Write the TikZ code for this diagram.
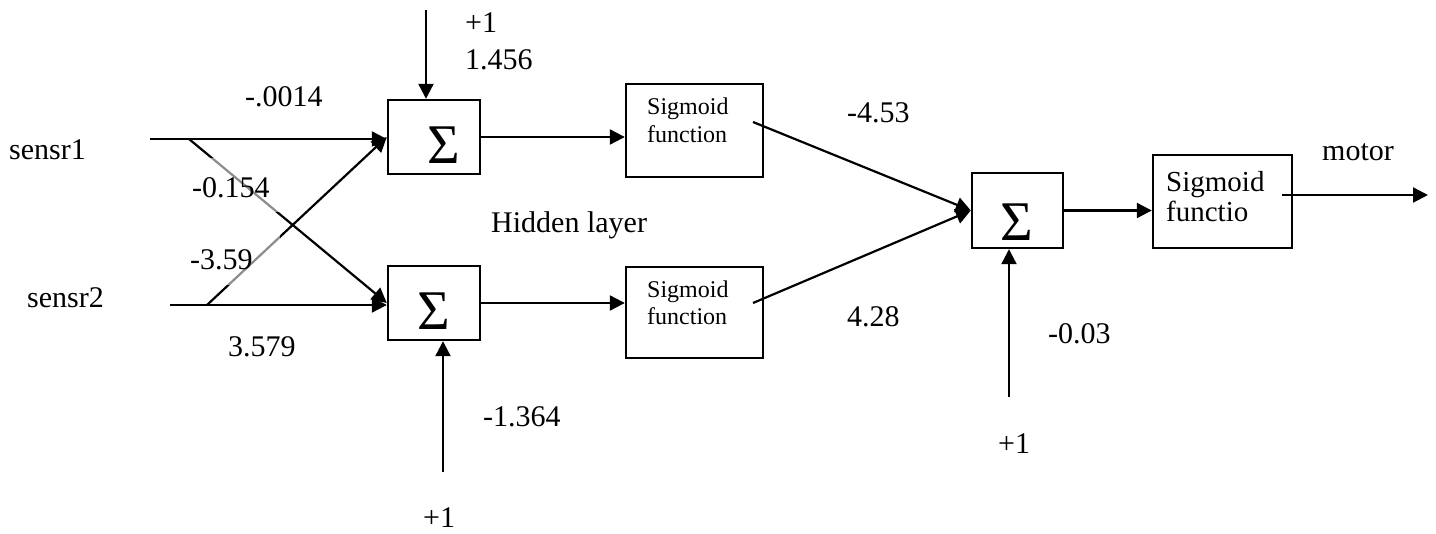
\documentclass[tikz,border=0pt]{standalone}
\usepackage{fontspec}
\setmainfont{Liberation Serif}
\usetikzlibrary{arrows.meta}
\begin{document}
\begin{tikzpicture}[x=1pt,y=-1pt,
  wire/.style={line width=2.2pt},
  arr/.style={wire,-{Triangle[length=15pt,width=15pt]}},
  boxs/.style={draw,line width=2.4pt,inner sep=0pt},
  lbl/.style={anchor=base west,inner sep=0pt,font=\fontsize{30}{34}\selectfont},
  sml/.style={anchor=base west,inner sep=0pt,font=\fontsize{24}{28}\selectfont},
  sig/.style={inner sep=0pt,font=\fontsize{56}{60}\selectfont}]
\useasboundingbox (0,0) rectangle (1436,534);
% boxes
\node[boxs,minimum width=92pt,minimum height=74pt] (s1) at (434,137) {};
\node[boxs,minimum width=92pt,minimum height=74pt] (s2) at (434,303) {};
\node[boxs,minimum width=137pt,minimum height=93pt] (g1) at (694.5,130.5) {};
\node[boxs,minimum width=137pt,minimum height=91pt] (g2) at (694.5,312.5) {};
\node[boxs,minimum width=91pt,minimum height=75pt] (s3) at (1017.5,210.5) {};
\node[boxs,minimum width=139pt,minimum height=93pt] (g3) at (1222.5,201.5) {};
% sigma glyphs
\node[sig] (sg1) at (444,145) {Σ};
\node[sig] (sg2) at (434,311) {Σ};
\node[sig] (sg3) at (1017,222) {Σ};
% free ends
\coordinate (in1) at (150,139);
\coordinate (in2) at (170,305);
\coordinate (c1) at (189,139);
\coordinate (c2) at (207,305);
\coordinate (b1) at (426,10);
\coordinate (b2) at (443,472);
\coordinate (o1) at (753,122);
\coordinate (o2) at (753,303);
\coordinate (b3) at (1009,397);
\coordinate (o3) at (1282,195);
\coordinate (out) at (1428,195);
% connectors
\draw[arr] (in1) -- (in1 -| s1.west);
\draw[arr] (in2) -- (in2 -| s2.west);
\draw[arr] (c1) -- (s2.west);
\draw[arr] (c2) -- (s1.west);
\draw[arr] (b1) -- (b1 |- s1.north);
\draw[arr] (b2) -- (b2 |- s2.south);
\draw[arr] (s1.east) -- (s1.east -| g1.west);
\draw[arr] (s2.east) -- (s2.east -| g2.west);
\draw[arr] (o1) -- (s3.west);
\draw[arr] (o2) -- (s3.west);
\draw[arr] (s3.east) -- (s3.east -| g3.west);
\draw[arr] (b3) -- (b3 |- s3.south);
\draw[arr] (o3) -- (out);
% translucent label backgrounds over the crossing lines
\fill[white,opacity=0.55] (172,158) rectangle (297,212);
\fill[white,opacity=0.55] (160,232) rectangle (280,285);
% texts
\node[lbl] (t1) at (9,160) {sensr1};
\node[lbl] (t2) at (27,308) {sensr2};
\node[lbl] (w1) at (245,107) {-.0014};
\node[lbl] (w2) at (192,198) {-0.154};
\node[lbl] (w3) at (190,270) {-3.59};
\node[lbl] (w4) at (228,357) {3.579};
\node[lbl] (p1) at (465,33) {+1};
\node[lbl] (w5) at (465,70) {1.456};
\node[lbl] (hl) at (491,233) {Hidden layer};
\node[lbl] (w6) at (483,427) {-1.364};
\node[lbl] (p2) at (423,527) {+1};
\node[lbl] (w7) at (847,123) {-4.53};
\node[lbl] (w8) at (847,327) {4.28};
\node[lbl] (w9) at (1048,344) {-0.03};
\node[lbl] (p3) at (998,454) {+1};
\node[lbl] (mo) at (1322,161) {motor};
\node[sml] (ga) at (647,115) {Sigmoid};
\node[sml] (gb) at (647,143) {function};
\node[sml] (gc) at (647,298) {Sigmoid};
\node[sml] (gd) at (647,325) {function};
\node[lbl,font=\fontsize{29}{33}\selectfont] (ge) at (1166,192) {Sigmoid};
\node[lbl,font=\fontsize{29}{33}\selectfont] (gf) at (1166,222) {functio};
\end{tikzpicture}
\end{document}
